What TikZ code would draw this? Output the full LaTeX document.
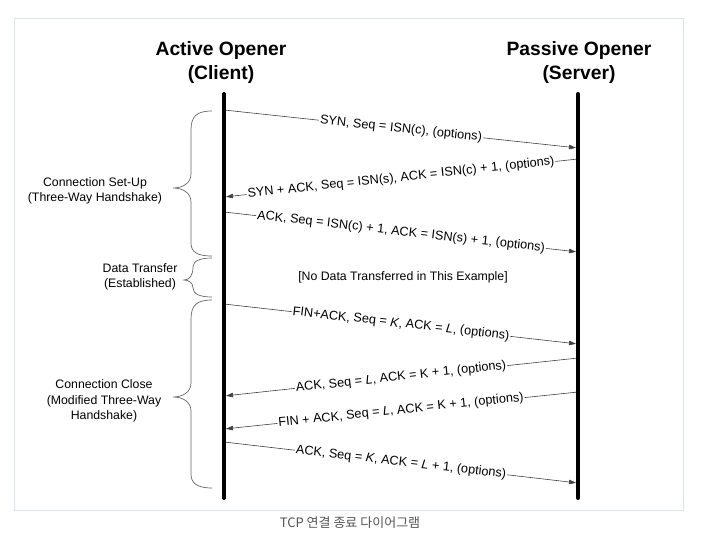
\documentclass[tikz,border=0pt]{standalone}
\usepackage{fontspec}
\setmainfont{Liberation Sans}
\newfontfamily\krfont{Noto Sans CJK KR}
\usetikzlibrary{arrows.meta}
\definecolor{framecol}{HTML}{DDE3EA}
\definecolor{capcol}{HTML}{555555}
\begin{document}
\begin{tikzpicture}[x=1pt,y=1pt,
  msg/.style={draw=black!75, line width=0.6pt, -{Triangle[length=7pt,width=4.5pt]}, shorten >=2pt, shorten <=2pt},
  msglabel/.style={midway, sloped, fill=white, inner sep=1pt, font=\fontsize{12.7}{14}\selectfont, text=black},
  lifeline/.style={line width=4pt, line cap=round},
  phase/.style={align=center, font=\fontsize{12.3}{15.5}\selectfont},
  bracepath/.style={draw=black!60, line width=0.7pt},
  title/.style={align=center, font=\bfseries\fontsize{19.3}{24}\selectfont}
]
\useasboundingbox (0,0) rectangle (701,-544);
\draw[framecol, line width=1pt] (14,-18) rectangle (683,-510);

% titles
\node[title] (client) at (221,-63) {Active Opener\\(Client)};
\node[title] (server) at (579,-63) {Passive Opener\\(Server)};

% lifelines
\coordinate (ctop) at (224,-94);
\coordinate (cbot) at (224,-498);
\coordinate (stop) at (578,-94);
\coordinate (sbot) at (578,-498);
\draw[lifeline] (ctop) -- (cbot);
\draw[lifeline] (stop) -- (sbot);

% message endpoints
\coordinate (c1) at (224,-110); \coordinate (s1) at (578,-148);
\coordinate (s2) at (578,-159); \coordinate (c2) at (224,-197);
\coordinate (c3) at (224,-212); \coordinate (s3) at (578,-252);
\coordinate (c4) at (224,-304); \coordinate (s4) at (578,-344);
\coordinate (s5) at (578,-358); \coordinate (c5) at (224,-396);
\coordinate (s6) at (578,-392); \coordinate (c6) at (224,-429);
\coordinate (c7) at (224,-442); \coordinate (s7) at (578,-483);

\draw[msg] (c1) -- node[msglabel] {SYN, Seq = ISN(c), (options)} (s1);
\draw[msg] (s2) -- node[msglabel] {SYN + ACK, Seq = ISN(s), ACK = ISN(c) + 1, (options)} (c2);
\draw[msg] (c3) -- node[msglabel] {ACK, Seq = ISN(c) + 1, ACK = ISN(s) + 1, (options)} (s3);
\draw[msg] (c4) -- node[msglabel] {FIN+ACK, Seq = \textit{K}, ACK = \textit{L}, (options)} (s4);
\draw[msg] (s5) -- node[msglabel] {ACK, Seq = \textit{L}, ACK = K + 1, (options)} (c5);
\draw[msg] (s6) -- node[msglabel] {FIN + ACK, Seq = \textit{L}, ACK = K + 1, (options)} (c6);
\draw[msg] (c7) -- node[msglabel] {ACK, Seq = \textit{K}, ACK = \textit{L} + 1, (options)} (s7);

\node[font=\fontsize{12.3}{14}\selectfont] (nodata) at (403,-277) {[No Data Transferred in This Example]};

% phases
\node[phase] (setup) at (95,-191) {Connection Set-Up\\(Three-Way Handshake)};
\node[phase] (data) at (140,-277) {Data Transfer\\(Established)};
\node[phase] (close) at (104,-401) {Connection Close\\(Modified Three-Way\\Handshake)};

% braces
\draw[bracepath] (212,-111) .. controls (197,-111) and (191,-116) .. (191,-130) -- (191,-174)
  .. controls (191,-183) and (183,-188) .. (173,-188)
  .. controls (183,-188) and (191,-193) .. (191,-202) -- (191,-243)
  .. controls (191,-252) and (197,-256) .. (212,-256);
\draw[bracepath] (212,-258) .. controls (200,-258) and (193,-261) .. (193,-267)
  .. controls (193,-276) and (189,-280) .. (184,-280)
  .. controls (189,-280) and (193,-283) .. (193,-288)
  .. controls (193,-294) and (200,-297) .. (212,-297);
\draw[bracepath] (212,-300) .. controls (197,-300) and (191,-305) .. (191,-319) -- (191,-383)
  .. controls (191,-392) and (183,-397) .. (173,-397)
  .. controls (183,-397) and (191,-402) .. (191,-411) -- (191,-474)
  .. controls (191,-483) and (197,-488) .. (212,-488);

% caption
\node[text=capcol, font=\krfont\fontsize{13}{15}\selectfont] (caption) at (350,-523) {TCP 연결 종료 다이어그램};
\end{tikzpicture}
\end{document}
